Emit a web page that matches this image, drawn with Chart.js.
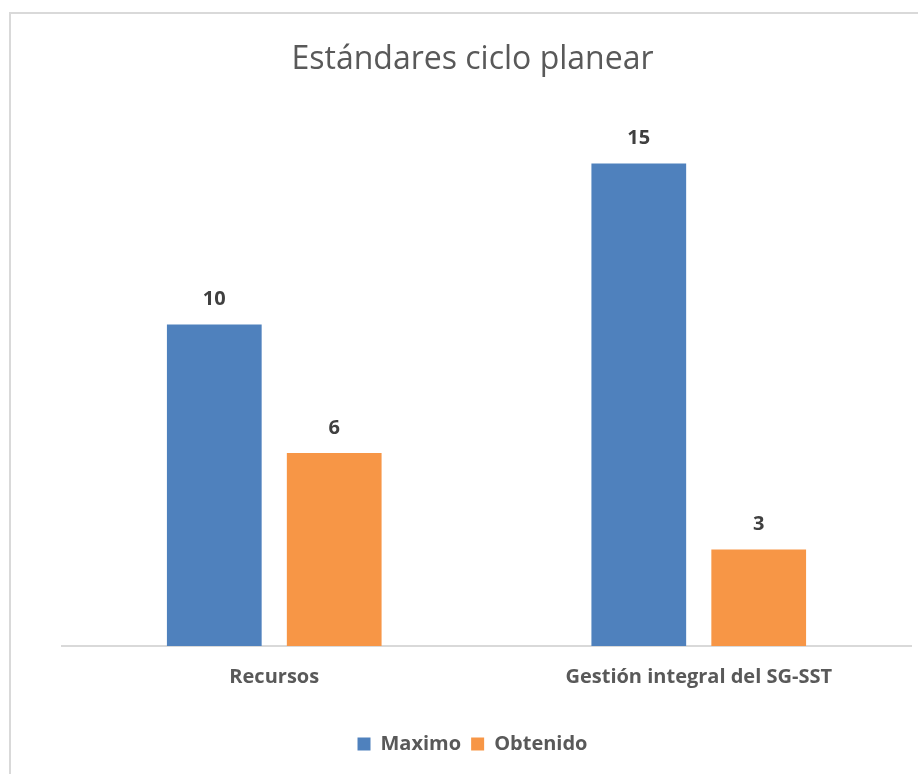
<!DOCTYPE html>
<html>
<head>
<meta charset="utf-8">
<script src="https://cdn.jsdelivr.net/npm/chart.js@4"></script>
<style>
html,body{margin:0;padding:0;background:#fff;overflow:hidden}
#frame{position:absolute;left:9px;top:12px;width:940px;height:800px;border:2px solid #d9d9d9;box-sizing:border-box}
canvas{position:absolute;left:0;top:0}
</style>
</head>
<body>
<div id="frame"></div>
<canvas id="c" width="918" height="774"></canvas>
<script>
const categories = ["Recursos", "Gestión integral del SG-SST"]
const maximo = [10, 15]
const obtenido = [6, 3]

// value labels above bars
const barLabels = {
id:"barLabels",
afterDatasetsDraw(chart){
const ctx = chart.ctx
ctx.save()
ctx.font = "bold 20px 'Open Sans', sans-serif"
ctx.fillStyle = "#404040"
ctx.textAlign = "center"
ctx.textBaseline = "middle"
chart.data.datasets.forEach((ds,i)=>{
chart.getDatasetMeta(i).data.forEach((bar,j)=>{
ctx.fillText(ds.data[j], bar.x, bar.y - 25)
})
})
ctx.restore()
}
}

new Chart(document.getElementById("c"),{
type:"bar",
data:{
labels:categories,
datasets:[
{label:"Maximo",data:maximo,backgroundColor:"#4f81bd"},
{label:"Obtenido",data:obtenido,backgroundColor:"#f79646"}
]
},
options:{
responsive:false,
animation:false,
layout:{padding:{left:34,right:7,top:0,bottom:10}},
datasets:{bar:{categoryPercentage:0.565,barPercentage:0.79}},
plugins:{
title:{display:true,text:"Estándares ciclo planear",color:"#595959",
font:{family:"'Open Sans', sans-serif",size:32,weight:"normal"},padding:{top:41,bottom:52}},
legend:{position:"bottom",labels:{color:"#595959",boxWidth:13,boxHeight:13,
font:{family:"'Open Sans', sans-serif",size:20,weight:"bold"}}},
tooltip:{enabled:false}
},
scales:{
x:{grid:{display:false},border:{color:"#d9d9d9",width:2},
afterFit(scale){ scale.height += 24 },
ticks:{color:"#595959",padding:11,font:{family:"'Open Sans', sans-serif",size:20,weight:"bold"}}},
y:{min:0,max:16,grid:{display:false},border:{display:false},ticks:{display:false},
afterFit(scale){ scale.width = 28 }}
}
},
plugins:[barLabels]
})
</script>
</body>
</html>
